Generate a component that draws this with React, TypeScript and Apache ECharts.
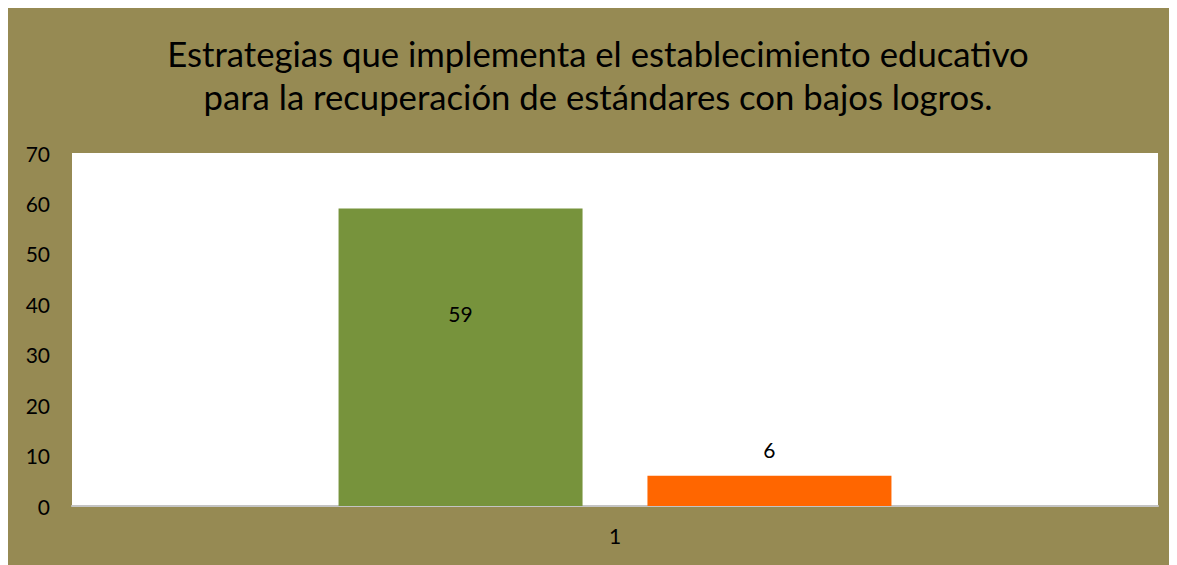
import React, { useEffect, useRef } from "react";
import * as echarts from "echarts";

const categories = ["1"];
const seriesA = [59];
const seriesB = [6];
const yTicks = [0, 70, 10];
const titleLines = [
  "Estrategias que implementa el establecimiento educativo",
  "para la recuperación de estándares con bajos logros.",
];

export default function App() {
  const ref = useRef<HTMLDivElement>(null);
  useEffect(() => {
    document.documentElement.style.overflow = "hidden";
    const chart = echarts.init(ref.current!, null, { renderer: "svg" });
    const font = "Lato";
    chart.setOption({
      animation: false,
      backgroundColor: "#968a53",
      title: {
        text: titleLines.join("\n"),
        left: 585,
        textAlign: "center",
        top: 19,
        textStyle: {
          fontFamily: font,
          fontSize: 34.7,
          fontWeight: "normal",
          color: "#000",
          lineHeight: 43,
        },
      },
      grid: { left: 64, top: 145, right: 19, bottom: 59, backgroundColor: "#fff", show: true, borderWidth: 0 },
      xAxis: {
        type: "category",
        data: categories,
        axisLine: { lineStyle: { color: "#c4c4c4", width: 2 } },
        axisTick: { show: false },
        axisLabel: { color: "#000", fontFamily: font, fontSize: 21, margin: 19 },
      },
      yAxis: {
        type: "value",
        min: yTicks[0],
        max: yTicks[1],
        interval: yTicks[2],
        axisLine: { show: false },
        axisTick: { show: false },
        splitLine: { show: false },
        axisLabel: { color: "#000", fontFamily: font, fontSize: 21, margin: 22 },
      },
      series: [
        {
          type: "bar",
          data: seriesA,
          barWidth: 244,
          barGap: "26.6%",
          itemStyle: { color: "#77933c" },
          label: {
            show: true,
            position: "insideTop",
            distance: 95,
            color: "#000",
            fontFamily: font,
            fontSize: 21,
          },
        },
        {
          type: "bar",
          data: seriesB,
          barWidth: 244,
          itemStyle: { color: "#ff6600" },
          label: {
            show: true,
            position: "top",
            distance: 16,
            color: "#000",
            fontFamily: font,
            fontSize: 21,
          },
        },
      ],
    });
    return () => chart.dispose();
  }, []);
  return <div ref={ref} style={{ width: 1169, height: 557 }} />;
}
